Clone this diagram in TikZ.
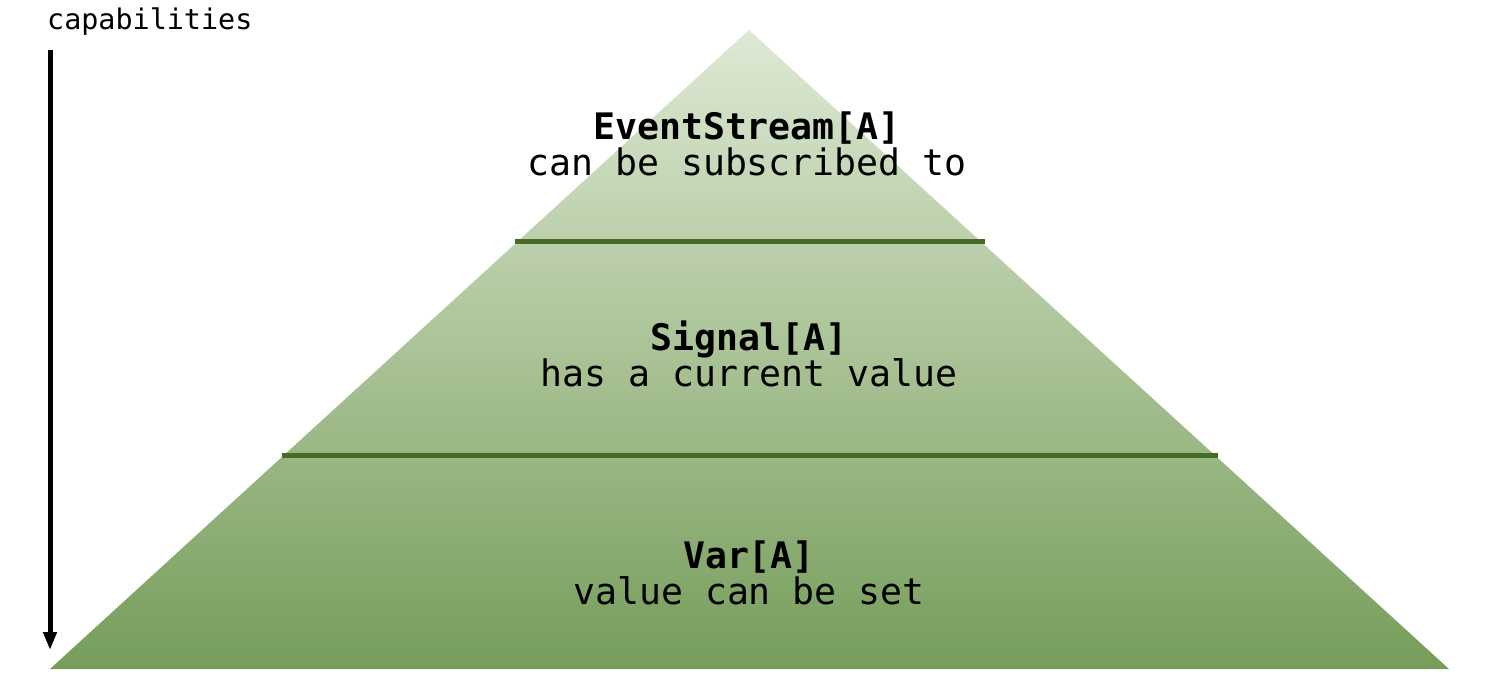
\documentclass[tikz,border=0pt]{standalone}
\usepackage{fontspec}
\setmonofont{DejaVu Sans Mono}
\usetikzlibrary{arrows.meta}
\definecolor{pyrtop}{RGB}{222,233,212}
\definecolor{pyrbot}{RGB}{118,157,90}
\definecolor{sepline}{RGB}{72,106,40}
\tikzset{
  lbl/.style={font=\ttfamily\fontsize{36.5}{35.5}\selectfont, align=center, inner sep=0pt},
  sep/.style={draw=sepline, line width=5pt},
  caparrow/.style={line width=5pt, -{Triangle[length=18pt,width=13pt]}},
}
\begin{document}
\begin{tikzpicture}[x=1pt,y=-1pt]
\useasboundingbox (0,0) rectangle (1500,700);
\coordinate (apex) at (749,30);
\coordinate (bl) at (50,669);
\coordinate (br) at (1449,669);
\shade[top color=pyrtop, bottom color=pyrbot] (apex) -- (br) -- (bl) -- cycle;
\coordinate (l1a) at (515,242);
\coordinate (l1b) at (985,242);
\coordinate (l2a) at (282,456);
\coordinate (l2b) at (1218,456);
\draw[sep] (l1a) -- (l1b);
\draw[sep] (l2a) -- (l2b);
\coordinate (as) at (50,50);
\coordinate (ae) at (50,650);
\draw[caparrow] (as) -- (ae);
\node[font=\ttfamily\fontsize{28.4}{30}\selectfont, anchor=base west, inner sep=0pt] (cap) at (47,30) {capabilities};
\node[lbl] (es) at (747,144) {{\bfseries EventStream[A]}\\can be subscribed to};
\node[lbl] (sg) at (749,354) {{\bfseries Signal[A]}\\has a current value};
\node[lbl] (vr) at (749,573) {{\bfseries Var[A]}\\value can be set};
\end{tikzpicture}
\end{document}
